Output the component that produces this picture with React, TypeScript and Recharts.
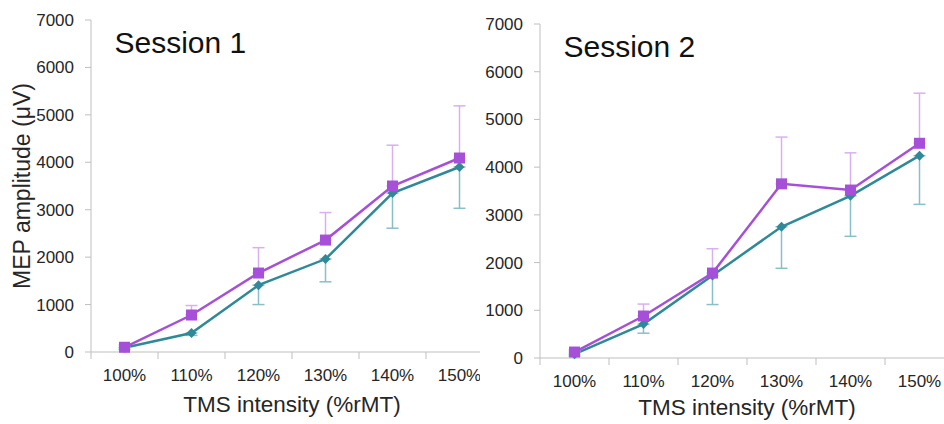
import React from 'react';
import { LineChart, Line, XAxis, YAxis, ErrorBar } from 'recharts';

// TMS intensity categories
const categories = ['100%', '110%', '120%', '130%', '140%', '150%'];
const catIndex = [0, 1, 2, 3, 4, 5];
const edgeTicks = [-0.5, 0.5, 1.5, 2.5, 3.5, 4.5, 5.5];
const yTicks = [0, 1000, 2000, 3000, 4000, 5000, 6000, 7000];

// Session 1 (µV) - purple squares with upper bars, teal diamonds with lower bars
const s1Purple = [100, 780, 1665, 2360, 3500, 4090];
const s1PurpleUpper = [150, 980, 2200, 2940, 4360, 5190];
const s1Teal = [90, 400, 1410, 1960, 3350, 3900];
const s1TealLower = [50, 350, 1000, 1480, 2610, 3030];

// Session 2 (µV)
const s2Purple = [125, 880, 1780, 3650, 3520, 4500];
const s2PurpleUpper = [170, 1130, 2290, 4630, 4300, 5550];
const s2Teal = [80, 710, 1730, 2750, 3400, 4240];
const s2TealLower = [40, 520, 1120, 1880, 2550, 3220];

const PURPLE = '#a64fd8';
const PURPLE_LIGHT = '#d9b0ef';
const TEAL = '#2f8999';
const TEAL_LIGHT = '#8bbfc8';
const AXIS = '#bfbfbf';
const TEXT = '#262626';
const FONT = '"Liberation Sans", Arial, sans-serif';

const buildRows = (purple: number[], upper: number[], teal: number[], lower: number[]) =>
  catIndex.map((i) => ({
    x: i,
    purple: purple[i],
    purpleErr: [0, upper[i] - purple[i]],
    teal: teal[i],
    tealErr: [teal[i] - lower[i], 0],
  }));

const session1 = buildRows(s1Purple, s1PurpleUpper, s1Teal, s1TealLower);
const session2 = buildRows(s2Purple, s2PurpleUpper, s2Teal, s2TealLower);

const SquareDot = (props: any) => {
  const { cx, cy, index } = props;
  if (cx == null || cy == null) return null;
  return <rect key={`sq-${index}`} x={cx - 5.5} y={cy - 5.5} width={11} height={11} fill={PURPLE} />;
};

const DiamondDot = (props: any) => {
  const { cx, cy, index } = props;
  if (cx == null || cy == null) return null;
  return (
    <polygon
      key={`dm-${index}`}
      points={`${cx},${cy - 5} ${cx + 5},${cy} ${cx},${cy + 5} ${cx - 5},${cy}`}
      fill={TEAL}
    />
  );
};

interface PanelProps {
  data: any[];
  width: number;
  top: number;
  right: number;
  yWidth: number;
  labelAxisHeight: number;
  titleOffset: number;
  showYLabel: boolean;
}

const Panel: React.FC<PanelProps> = ({ data, width, top, right, yWidth, labelAxisHeight, titleOffset, showYLabel }) => (
  <LineChart width={width} height={424} data={data} margin={{ top, right, bottom: 0, left: 0 }}>
    <XAxis
      xAxisId="a"
      dataKey="x"
      type="number"
      domain={[-0.5, 5.5]}
      ticks={edgeTicks}
      tickFormatter={() => ''}
      height={1}
      stroke={AXIS}
      tickSize={7}
      interval={0}
    />
    <XAxis
      xAxisId="b"
      dataKey="x"
      type="number"
      domain={[-0.5, 5.5]}
      ticks={catIndex}
      interval={0}
      tickFormatter={(v: number) => categories[v]}
      height={labelAxisHeight}
      axisLine={false}
      tickLine={false}
      tickSize={0}
      tickMargin={16}
      tick={{ fill: TEXT, fontSize: 17, fontFamily: FONT }}
      label={{
        value: 'TMS intensity (%rMT)',
        position: 'insideBottom',
        offset: titleOffset,
        fill: TEXT,
        fontSize: 22.5,
        fontFamily: FONT,
      }}
    />
    <YAxis
      type="number"
      domain={[0, 7000]}
      ticks={yTicks}
      interval={0}
      width={yWidth}
      stroke={AXIS}
      tickSize={6}
      tickMargin={11}
      tick={{ fill: TEXT, fontSize: 17, fontFamily: FONT }}
      label={
        showYLabel
          ? {
              value: 'MEP amplitude (\u03bcV)',
              angle: -90,
              position: 'insideLeft',
              offset: 22,
              fill: TEXT,
              fontSize: 23,
              fontFamily: FONT,
              style: { textAnchor: 'middle' },
            }
          : undefined
      }
    />
    <Line
      xAxisId="b"
      dataKey="teal"
      stroke={TEAL}
      strokeWidth={2.5}
      dot={DiamondDot}
      activeDot={false}
      isAnimationActive={false}
    >
      <ErrorBar dataKey="tealErr" direction="y" stroke={TEAL_LIGHT} strokeWidth={1.5} width={6} isAnimationActive={false} />
    </Line>
    <Line
      xAxisId="b"
      dataKey="purple"
      stroke={PURPLE}
      strokeWidth={2.5}
      dot={SquareDot}
      activeDot={false}
      isAnimationActive={false}
    >
      <ErrorBar dataKey="purpleErr" direction="y" stroke={PURPLE_LIGHT} strokeWidth={1.5} width={6} isAnimationActive={false} />
    </Line>
  </LineChart>
);

export default function App() {
  return (
    <div style={{ position: 'absolute', left: 0, top: 0, width: 944, height: 424, background: '#fff', overflow: 'hidden' }}>
      <div style={{ position: 'absolute', left: 0, top: 0, width: 480, height: 424, overflow: 'hidden' }}>
        <Panel data={session1} width={500} top={20} right={7} yWidth={91} labelAxisHeight={71} titleOffset={12} showYLabel />
      </div>
      <div style={{ position: 'absolute', left: 480, top: 0, width: 464, height: 424, overflow: 'hidden', background: 'transparent' }}>
        <Panel data={session2} width={480} top={24} right={6} yWidth={60} labelAxisHeight={65} titleOffset={9} showYLabel={false} />
      </div>
      <svg width={944} height={424} style={{ position: 'absolute', left: 0, top: 0, pointerEvents: 'none' }}>
        <text x={114.5} y={53} fontSize={30} fontFamily={FONT} fill="#111">Session 1</text>
        <text x={563.5} y={57} fontSize={30} fontFamily={FONT} fill="#111">Session 2</text>
      </svg>
    </div>
  );
}
